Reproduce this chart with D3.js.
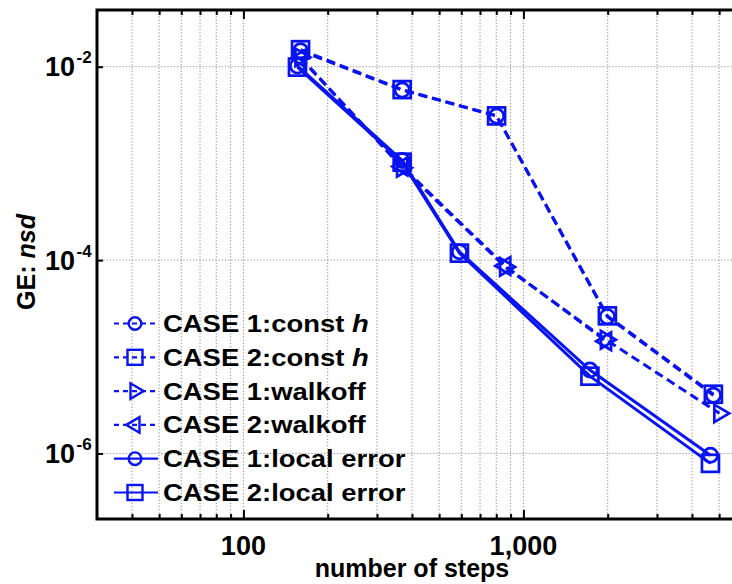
<!DOCTYPE html>
<html><head><meta charset="utf-8">
<script src="https://cdn.jsdelivr.net/npm/d3@7"></script>
<style>body{margin:0;background:#fff}svg{display:block}</style>
</head><body><svg id="c" width="732" height="584"></svg>
<script>
// ---- data ----
const stepsConst = [160, 369, 802, 1995, 4770];
const const1 = [0.0146, 0.00574, 0.00309, 2.6e-5, 4.0e-6];
const const2 = [0.0150, 0.00580, 0.00310, 2.65e-5, 4.1e-6];
const stepsWalk = [160, 369, 861, 1972, 5012];
const walk1 = [0.0125, 9.0e-4, 8.5e-5, 1.5e-5, 2.6e-6];
const walk2 = [0.0122, 9.3e-4, 8.7e-5, 1.45e-5];
const stepsLocal = [156, 369, 591, 1728, 4656];
const local1 = [0.0102, 1.07e-3, 1.22e-4, 7.3e-6, 9.6e-7];
const local2 = [0.0099, 1.03e-3, 1.18e-4, 6.3e-6, 7.9e-7];
const seriesLabels = ["CASE 1:const ", "CASE 2:const ", "CASE 1:walkoff", "CASE 2:walkoff", "CASE 1:local error", "CASE 2:local error"];
const seriesItalic = ["h", "h", "", "", "", ""];
const xMajorTicks = [100, 1000];
const xMajorLabels = ["100", "1,000"];
const xMinorTicks = [40, 50, 60, 70, 80, 90, 200, 300, 400, 500, 600, 700, 800, 900, 2000, 3000, 4000, 5000];
const yGridTicks = [1e-2, 1e-4, 1e-6];
const yTickExponents = ["-2", "-4", "-6"];
const xTitle = "number of steps";
const yTitleA = "GE: ", yTitleB = "nsd";

// ---- layout ----
const L = 97, T = 10, B = 519, R = 742;
const blue = "#0a14f0";
const FONT = "'Liberation Sans', Arial, sans-serif";
const x = d3.scaleLog().domain([30, 6000]).range([L, L + 280 * Math.log10(6000 / 30)]);
const y = d3.scaleLog().domain([0.0386, 2.1e-7]).range([T, B]);

const svg = d3.select("#c");
svg.append("rect").attr("width", 732).attr("height", 584).attr("fill", "#fff");
svg.append("defs").append("clipPath").attr("id", "clip")
  .append("rect").attr("x", L).attr("y", T).attr("width", R - L).attr("height", B - T);

// grid
const grid = svg.append("g").attr("stroke", "#8a8a8a").attr("stroke-width", 1).attr("stroke-dasharray", "1.2,2");
grid.selectAll(".gx").data(xMinorTicks.concat(xMajorTicks)).join("line")
  .attr("x1", d => x(d)).attr("x2", d => x(d)).attr("y1", T).attr("y2", B);
grid.selectAll(".gy").data(yGridTicks).join("line")
  .attr("x1", L).attr("x2", R).attr("y1", d => y(d)).attr("y2", d => y(d));

// ticks (inward) using axes
const axB = d3.axisBottom(x).tickValues(xMinorTicks).tickSize(-5).tickFormat("");
const axBM = d3.axisBottom(x).tickValues(xMajorTicks).tickSize(-9).tickFormat("");
const axT = d3.axisTop(x).tickValues(xMinorTicks).tickSize(-5).tickFormat("");
const axTM = d3.axisTop(x).tickValues(xMajorTicks).tickSize(-9).tickFormat("");
const axL = d3.axisLeft(y).tickValues(yGridTicks).tickSize(-6).tickFormat("");
[[axB, `translate(0,${B})`], [axBM, `translate(0,${B})`], [axT, `translate(0,${T})`], [axTM, `translate(0,${T})`], [axL, `translate(${L},0)`]]
  .forEach(([a, t]) => {
    const g = svg.append("g").attr("transform", t).call(a);
    g.select(".domain").remove();
    g.selectAll("line").attr("stroke", "#000").attr("stroke-width", 2);
  });

// frame
svg.append("path").attr("d", `M${R},${T}H${L}V${B}H${R}`).attr("fill", "none")
  .attr("stroke", "#000").attr("stroke-width", 3);

// markers
function marker(g, type, cx, cy, s) {
  if (type === "o") g.append("circle").attr("cx", cx).attr("cy", cy).attr("r", s * 0.42);
  else if (type === "s") g.append("rect").attr("x", cx - s / 2).attr("y", cy - s / 2).attr("width", s).attr("height", s);
  else if (type === ">") g.append("path").attr("d", `M${cx + s * 0.58},${cy}L${cx - s * 0.3},${cy - s * 0.52}L${cx - s * 0.3},${cy + s * 0.52}Z`);
  else if (type === "<") g.append("path").attr("d", `M${cx - s * 0.58},${cy}L${cx + s * 0.3},${cy - s * 0.52}L${cx + s * 0.3},${cy + s * 0.52}Z`);
}

const series = [
  {xs: stepsConst, ys: const1, m: "o", dash: "9,5"},
  {xs: stepsConst, ys: const2, m: "s", dash: "9,5"},
  {xs: stepsWalk, ys: walk1, m: ">", dash: "9,5"},
  {xs: stepsWalk, ys: walk2, m: "<", dash: "9,5"},
  {xs: stepsLocal, ys: local1, m: "o", dash: null},
  {xs: stepsLocal, ys: local2, m: "s", dash: null}
];

const plot = svg.append("g").attr("clip-path", "url(#clip)");
const line = d3.line().x(d => x(d[0])).y(d => y(d[1]));
series.forEach(s => {
  const pts = s.ys.map((v, i) => [s.xs[i], v]);
  const g = plot.append("g");
  g.append("path").attr("d", line(pts)).attr("fill", "none").attr("stroke", blue)
    .attr("stroke-width", 3).attr("stroke-dasharray", s.dash);
  const mg = g.append("g").attr("fill", "none").attr("stroke", blue).attr("stroke-width", 2.7);
  pts.forEach(p => marker(mg, s.m, x(p[0]), y(p[1]), 17));
});

// legend
const leg = svg.append("g");
series.forEach((s, i) => {
  const cy = 323.5 + i * 33.8;
  leg.append("line").attr("x1", 114).attr("x2", 158).attr("y1", cy).attr("y2", cy)
    .attr("stroke", blue).attr("stroke-width", 2.2).attr("stroke-dasharray", s.dash ? "5,4" : null);
  const mg = leg.append("g").attr("fill", "none").attr("stroke", blue).attr("stroke-width", 2.4);
  marker(mg, s.m, 135, cy, 15);
  const t = leg.append("text").attr("transform", `translate(163,${cy + 8.5}) scale(1.12,1)`)
    .attr("font-family", FONT).attr("font-weight", "bold").attr("font-size", 24.5).attr("fill", "#000");
  t.append("tspan").text(seriesLabels[i]);
  if (seriesItalic[i]) t.append("tspan").attr("font-style", "italic").text(seriesItalic[i]);
});

// y tick labels
yGridTicks.forEach((v, i) => {
  const yy = y(v);
  svg.append("text").attr("x", 75).attr("y", yy + 9.5).attr("text-anchor", "end")
    .attr("font-family", FONT).attr("font-weight", "bold").attr("font-size", 27).text("10");
  svg.append("text").attr("x", 76.5).attr("y", yy - 3.5)
    .attr("font-family", FONT).attr("font-weight", "bold").attr("font-size", 17).text(yTickExponents[i]);
});

// x tick labels
xMajorTicks.forEach((v, i) => {
  svg.append("text").attr("x", x(v)).attr("y", 555).attr("text-anchor", "middle")
    .attr("font-family", FONT).attr("font-weight", "bold").attr("font-size", 27).text(xMajorLabels[i]);
});

// axis titles
svg.append("text").attr("x", 412).attr("y", 577).attr("text-anchor", "middle")
  .attr("font-family", FONT).attr("font-weight", "bold").attr("font-size", 25).text(xTitle);
const yt = svg.append("text").attr("transform", "translate(35,262) rotate(-90)").attr("text-anchor", "middle")
  .attr("font-family", FONT).attr("font-weight", "bold").attr("font-size", 25);
yt.append("tspan").text(yTitleA);
yt.append("tspan").attr("font-style", "italic").text(yTitleB);
</script></body></html>
